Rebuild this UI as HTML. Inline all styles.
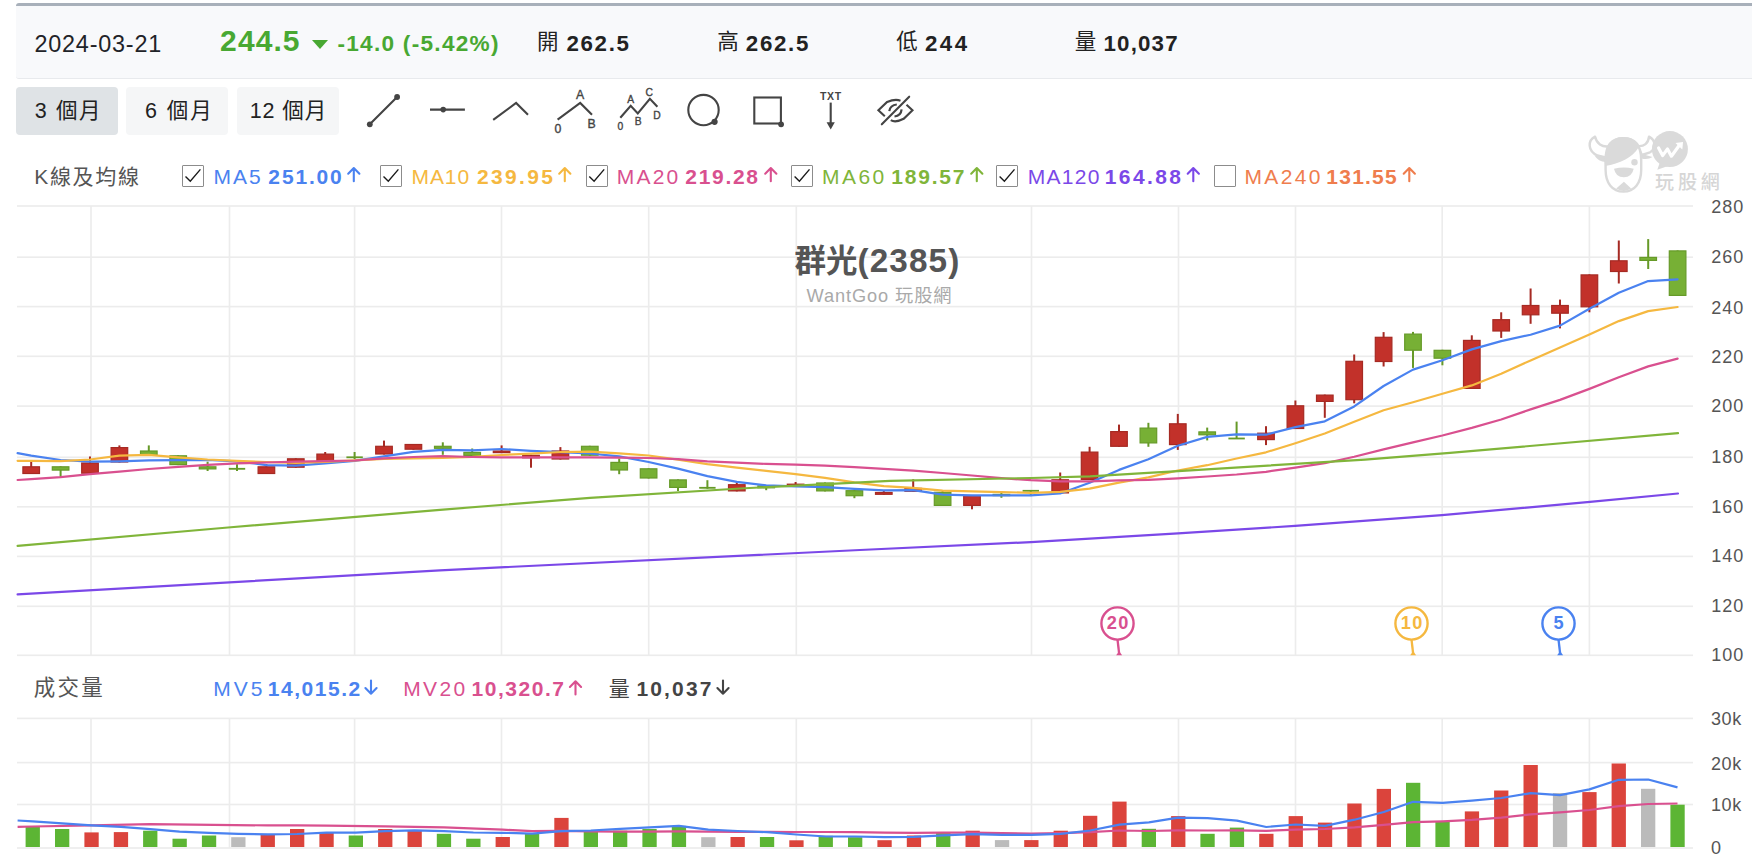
<!DOCTYPE html><html lang="zh-Hant"><head><meta charset="utf-8"><title>群光(2385)</title><style>
html,body{margin:0;padding:0;background:#fff}body{width:1752px;height:868px;position:relative;overflow:hidden;font-family:"Liberation Sans","Noto Sans CJK TC",sans-serif}
.t{position:absolute;white-space:nowrap;line-height:1}
.bar{position:absolute;left:16px;top:3px;width:1740px;height:72px;background:#f8f9fb;border-top:3px solid #a8b0ba;border-bottom:1px solid #e8eaed;border-radius:3px 0 0 3px}
.btn{position:absolute;top:87px;width:102px;height:47.5px;border-radius:4px;background:#f5f6f7}
.btn.on{background:#dfe3e6}
.cb{position:absolute;top:165px;width:19.6px;height:19.8px;border:1.1px solid #8c8c8c;background:#fff;border-radius:1px}
</style></head><body>
<div class="bar"></div>
<div class="btn on" style="left:16.3px"></div><div class="btn" style="left:126.3px"></div><div class="btn" style="left:236.8px"></div>
<svg width="1752" height="868" viewBox="0 0 1752 868" style="position:absolute;left:0;top:0">
<rect x="17.0" y="205.2" width="1676.0" height="1.6" fill="#ececec"/>
<rect x="17.0" y="256.4" width="1676.0" height="1.6" fill="#ececec"/>
<rect x="17.0" y="305.8" width="1676.0" height="1.6" fill="#ececec"/>
<rect x="17.0" y="355.5" width="1676.0" height="1.6" fill="#ececec"/>
<rect x="17.0" y="405.3" width="1676.0" height="1.6" fill="#ececec"/>
<rect x="17.0" y="456.5" width="1676.0" height="1.6" fill="#ececec"/>
<rect x="17.0" y="506.0" width="1676.0" height="1.6" fill="#ececec"/>
<rect x="17.0" y="555.6" width="1676.0" height="1.6" fill="#ececec"/>
<rect x="17.0" y="605.5" width="1676.0" height="1.6" fill="#ececec"/>
<rect x="17.0" y="654.5" width="1676.0" height="1.6" fill="#ececec"/>
<rect x="90.2" y="206" width="1.6" height="450" fill="#ececec"/>
<rect x="90.2" y="718" width="1.6" height="130" fill="#ececec"/>
<rect x="228.7" y="206" width="1.6" height="450" fill="#ececec"/>
<rect x="228.7" y="718" width="1.6" height="130" fill="#ececec"/>
<rect x="353.8" y="206" width="1.6" height="450" fill="#ececec"/>
<rect x="353.8" y="718" width="1.6" height="130" fill="#ececec"/>
<rect x="500.7" y="206" width="1.6" height="450" fill="#ececec"/>
<rect x="500.7" y="718" width="1.6" height="130" fill="#ececec"/>
<rect x="647.9" y="206" width="1.6" height="450" fill="#ececec"/>
<rect x="647.9" y="718" width="1.6" height="130" fill="#ececec"/>
<rect x="795.5" y="206" width="1.6" height="450" fill="#ececec"/>
<rect x="795.5" y="718" width="1.6" height="130" fill="#ececec"/>
<rect x="1030.7" y="206" width="1.6" height="450" fill="#ececec"/>
<rect x="1030.7" y="718" width="1.6" height="130" fill="#ececec"/>
<rect x="1177.7" y="206" width="1.6" height="450" fill="#ececec"/>
<rect x="1177.7" y="718" width="1.6" height="130" fill="#ececec"/>
<rect x="1294.7" y="206" width="1.6" height="450" fill="#ececec"/>
<rect x="1294.7" y="718" width="1.6" height="130" fill="#ececec"/>
<rect x="1441.4" y="206" width="1.6" height="450" fill="#ececec"/>
<rect x="1441.4" y="718" width="1.6" height="130" fill="#ececec"/>
<rect x="1588.6" y="206" width="1.6" height="450" fill="#ececec"/>
<rect x="1588.6" y="718" width="1.6" height="130" fill="#ececec"/>
<rect x="17.0" y="717.6" width="1676.0" height="1.6" fill="#ececec"/>
<rect x="17.0" y="761.8" width="1676.0" height="1.6" fill="#ececec"/>
<rect x="17.0" y="803.7" width="1676.0" height="1.6" fill="#ececec"/>
<rect x="17.0" y="847.2" width="1676.0" height="1.6" fill="#ececec"/>
<rect x="25.6" y="826.4" width="14.3" height="20.6" fill="#5cb534"/>
<rect x="55.0" y="829.0" width="14.3" height="18.0" fill="#5cb534"/>
<rect x="84.4" y="832.4" width="14.3" height="14.6" fill="#db443c"/>
<rect x="113.8" y="832.1" width="14.3" height="14.9" fill="#db443c"/>
<rect x="143.1" y="830.7" width="14.3" height="16.3" fill="#5cb534"/>
<rect x="172.5" y="838.7" width="14.3" height="8.3" fill="#5cb534"/>
<rect x="201.9" y="835.5" width="14.3" height="11.5" fill="#5cb534"/>
<rect x="231.2" y="837.2" width="14.3" height="9.8" fill="#bbbbbb"/>
<rect x="260.6" y="834.5" width="14.3" height="12.5" fill="#db443c"/>
<rect x="290.0" y="829.0" width="14.3" height="18.0" fill="#db443c"/>
<rect x="319.4" y="832.4" width="14.3" height="14.6" fill="#db443c"/>
<rect x="348.7" y="835.5" width="14.3" height="11.5" fill="#5cb534"/>
<rect x="378.1" y="829.0" width="14.3" height="18.0" fill="#db443c"/>
<rect x="407.5" y="830.4" width="14.3" height="16.6" fill="#db443c"/>
<rect x="436.8" y="833.8" width="14.3" height="13.2" fill="#5cb534"/>
<rect x="466.2" y="838.7" width="14.3" height="8.3" fill="#5cb534"/>
<rect x="495.6" y="837.0" width="14.3" height="10.0" fill="#db443c"/>
<rect x="524.9" y="833.3" width="14.3" height="13.7" fill="#5cb534"/>
<rect x="554.3" y="817.9" width="14.3" height="29.1" fill="#db443c"/>
<rect x="583.7" y="830.7" width="14.3" height="16.3" fill="#5cb534"/>
<rect x="613.0" y="830.7" width="14.3" height="16.3" fill="#5cb534"/>
<rect x="642.4" y="829.0" width="14.3" height="18.0" fill="#5cb534"/>
<rect x="671.8" y="825.9" width="14.3" height="21.1" fill="#5cb534"/>
<rect x="701.2" y="837.2" width="14.3" height="9.8" fill="#bbbbbb"/>
<rect x="730.5" y="837.0" width="14.3" height="10.0" fill="#db443c"/>
<rect x="759.9" y="837.0" width="14.3" height="10.0" fill="#5cb534"/>
<rect x="789.3" y="840.3" width="14.3" height="6.7" fill="#db443c"/>
<rect x="818.6" y="835.8" width="14.3" height="11.2" fill="#5cb534"/>
<rect x="848.0" y="837.2" width="14.3" height="9.8" fill="#5cb534"/>
<rect x="877.4" y="840.2" width="14.3" height="6.8" fill="#db443c"/>
<rect x="906.8" y="835.5" width="14.3" height="11.5" fill="#db443c"/>
<rect x="936.1" y="832.6" width="14.3" height="14.4" fill="#5cb534"/>
<rect x="965.5" y="830.7" width="14.3" height="16.3" fill="#db443c"/>
<rect x="994.9" y="840.1" width="14.3" height="6.9" fill="#bbbbbb"/>
<rect x="1024.2" y="840.1" width="14.3" height="6.9" fill="#db443c"/>
<rect x="1053.6" y="830.7" width="14.3" height="16.3" fill="#db443c"/>
<rect x="1083.0" y="815.8" width="14.3" height="31.2" fill="#db443c"/>
<rect x="1112.3" y="801.6" width="14.3" height="45.4" fill="#db443c"/>
<rect x="1141.7" y="828.8" width="14.3" height="18.2" fill="#5cb534"/>
<rect x="1171.1" y="816.1" width="14.3" height="30.9" fill="#db443c"/>
<rect x="1200.4" y="833.8" width="14.3" height="13.2" fill="#5cb534"/>
<rect x="1229.8" y="827.6" width="14.3" height="19.4" fill="#5cb534"/>
<rect x="1259.2" y="833.8" width="14.3" height="13.2" fill="#db443c"/>
<rect x="1288.6" y="816.1" width="14.3" height="30.9" fill="#db443c"/>
<rect x="1317.9" y="822.6" width="14.3" height="24.4" fill="#db443c"/>
<rect x="1347.3" y="803.5" width="14.3" height="43.5" fill="#db443c"/>
<rect x="1376.7" y="788.9" width="14.3" height="58.1" fill="#db443c"/>
<rect x="1406.0" y="782.8" width="14.3" height="64.2" fill="#5cb534"/>
<rect x="1435.4" y="821.2" width="14.3" height="25.8" fill="#5cb534"/>
<rect x="1464.8" y="811.4" width="14.3" height="35.6" fill="#db443c"/>
<rect x="1494.1" y="790.5" width="14.3" height="56.5" fill="#db443c"/>
<rect x="1523.5" y="765.0" width="14.3" height="82.0" fill="#db443c"/>
<rect x="1552.9" y="793.1" width="14.3" height="53.9" fill="#bbbbbb"/>
<rect x="1582.3" y="792.1" width="14.3" height="54.9" fill="#db443c"/>
<rect x="1611.6" y="763.5" width="14.3" height="83.5" fill="#db443c"/>
<rect x="1641.0" y="788.8" width="14.3" height="58.2" fill="#bbbbbb"/>
<rect x="1670.4" y="804.7" width="14.3" height="42.3" fill="#5cb534"/>
<polyline points="17.6,826.8 32.8,826.5 91.5,825.4 150.3,824.2 267.8,825.4 297.1,825.3 326.5,825.6 385.2,826.3 444.0,827.3 502.7,829.7 532.1,831.1 561.5,830.8 590.8,831.4 620.2,831.6 649.6,831.6 678.9,831.3 708.3,831.6 737.7,831.9 767.0,831.8 796.4,832.0 825.8,832.0 855.2,832.1 884.5,832.6 913.9,832.8 943.3,832.7 972.6,832.7 1002.0,833.2 1031.4,833.5 1060.8,833.1 1090.1,832.1 1119.5,830.5 1148.9,831.0 1178.2,830.3 1207.6,830.5 1237.0,830.4 1266.3,830.8 1295.7,829.7 1325.1,829.0 1354.5,827.3 1383.8,824.8 1413.2,822.1 1442.6,821.3 1471.9,819.9 1501.3,817.6 1530.7,814.3 1560.0,812.4 1589.4,810.0 1618.8,806.1 1648.2,804.0 1677.5,803.5" fill="none" stroke="#d9508f" stroke-width="2.2" stroke-linejoin="round"/>
<polyline points="17.6,820.5 32.8,821.3 62.2,823.4 91.5,825.4 120.9,826.8 150.3,829.1 179.6,831.6 209.0,832.9 238.4,833.8 267.8,834.3 297.1,834.0 326.5,832.7 355.9,832.7 385.2,831.1 414.6,830.3 444.0,831.2 473.4,832.5 502.7,832.8 532.1,833.6 561.5,831.1 590.8,830.5 620.2,828.9 649.6,827.3 678.9,825.8 708.3,829.7 737.7,831.0 767.0,832.2 796.4,834.5 825.8,836.5 855.2,836.5 884.5,837.1 913.9,836.8 943.3,835.3 972.6,834.2 1002.0,834.8 1031.4,834.8 1060.8,833.8 1090.1,830.5 1119.5,824.7 1148.9,822.4 1178.2,817.6 1207.6,818.2 1237.0,820.6 1266.3,827.0 1295.7,824.5 1325.1,825.8 1354.5,819.7 1383.8,812.0 1413.2,801.8 1442.6,802.8 1471.9,800.6 1501.3,798.0 1530.7,793.2 1560.0,795.2 1589.4,789.4 1618.8,779.8 1648.2,779.5 1677.5,787.4" fill="none" stroke="#4a82f0" stroke-width="2.2" stroke-linejoin="round"/>
<rect x="30.2" y="461.7" width="2" height="12.3" fill="#a62a23"/>
<rect x="22.9" y="466.8" width="16.6" height="6.7" fill="#c2312a" stroke="#a62a23" stroke-width="1.2"/>
<rect x="59.6" y="466.3" width="2" height="11.3" fill="#669a28"/>
<rect x="52.3" y="466.8" width="16.6" height="3.3" fill="#77b035" stroke="#669a28" stroke-width="1.2"/>
<rect x="89.0" y="456.5" width="2" height="17.2" fill="#a62a23"/>
<rect x="81.7" y="463.0" width="16.6" height="10.2" fill="#c2312a" stroke="#a62a23" stroke-width="1.2"/>
<rect x="118.4" y="445.4" width="2" height="17.1" fill="#a62a23"/>
<rect x="111.1" y="447.6" width="16.6" height="14.4" fill="#c2312a" stroke="#a62a23" stroke-width="1.2"/>
<rect x="147.8" y="445.4" width="2" height="10.3" fill="#669a28"/>
<rect x="140.5" y="451.0" width="16.6" height="4.2" fill="#77b035" stroke="#669a28" stroke-width="1.2"/>
<rect x="177.2" y="455.3" width="2" height="9.8" fill="#669a28"/>
<rect x="169.9" y="455.8" width="16.6" height="8.8" fill="#77b035" stroke="#669a28" stroke-width="1.2"/>
<rect x="206.6" y="461.7" width="2" height="9.3" fill="#669a28"/>
<rect x="199.3" y="466.8" width="16.6" height="2.1" fill="#77b035" stroke="#669a28" stroke-width="1.2"/>
<rect x="236.0" y="464.2" width="2" height="6.8" fill="#669a28"/>
<rect x="229.4" y="468.5" width="15.2" height="0.6" fill="#77b035" stroke="#669a28" stroke-width="1.2"/>
<rect x="265.4" y="464.0" width="2" height="10.0" fill="#a62a23"/>
<rect x="258.1" y="466.8" width="16.6" height="6.7" fill="#c2312a" stroke="#a62a23" stroke-width="1.2"/>
<rect x="294.8" y="458.3" width="2" height="9.4" fill="#a62a23"/>
<rect x="287.5" y="458.8" width="16.6" height="8.4" fill="#c2312a" stroke="#a62a23" stroke-width="1.2"/>
<rect x="324.2" y="452.0" width="2" height="12.0" fill="#a62a23"/>
<rect x="316.9" y="454.1" width="16.6" height="7.1" fill="#c2312a" stroke="#a62a23" stroke-width="1.2"/>
<rect x="353.6" y="452.0" width="2" height="7.0" fill="#669a28"/>
<rect x="347.0" y="457.0" width="15.2" height="0.6" fill="#77b035" stroke="#669a28" stroke-width="1.2"/>
<rect x="383.0" y="440.6" width="2" height="13.9" fill="#a62a23"/>
<rect x="375.7" y="446.3" width="16.6" height="7.7" fill="#c2312a" stroke="#a62a23" stroke-width="1.2"/>
<rect x="412.4" y="444.0" width="2" height="5.7" fill="#a62a23"/>
<rect x="405.1" y="444.5" width="16.6" height="4.7" fill="#c2312a" stroke="#a62a23" stroke-width="1.2"/>
<rect x="441.8" y="442.3" width="2" height="12.5" fill="#669a28"/>
<rect x="434.5" y="446.3" width="16.6" height="2.0" fill="#77b035" stroke="#669a28" stroke-width="1.2"/>
<rect x="471.2" y="448.5" width="2" height="7.5" fill="#669a28"/>
<rect x="463.9" y="452.4" width="16.6" height="3.1" fill="#77b035" stroke="#669a28" stroke-width="1.2"/>
<rect x="500.6" y="445.4" width="2" height="7.7" fill="#a62a23"/>
<rect x="493.3" y="451.0" width="16.6" height="1.6" fill="#c2312a" stroke="#a62a23" stroke-width="1.2"/>
<rect x="530.0" y="454.8" width="2" height="12.9" fill="#a62a23"/>
<rect x="522.7" y="455.3" width="16.6" height="2.5" fill="#c2312a" stroke="#a62a23" stroke-width="1.2"/>
<rect x="559.4" y="447.1" width="2" height="12.4" fill="#a62a23"/>
<rect x="552.1" y="451.0" width="16.6" height="8.0" fill="#c2312a" stroke="#a62a23" stroke-width="1.2"/>
<rect x="588.8" y="445.8" width="2" height="9.9" fill="#669a28"/>
<rect x="581.5" y="446.3" width="16.6" height="8.9" fill="#77b035" stroke="#669a28" stroke-width="1.2"/>
<rect x="618.2" y="458.5" width="2" height="15.7" fill="#669a28"/>
<rect x="610.9" y="462.4" width="16.6" height="7.6" fill="#77b035" stroke="#669a28" stroke-width="1.2"/>
<rect x="647.6" y="468.3" width="2" height="10.2" fill="#669a28"/>
<rect x="640.3" y="468.8" width="16.6" height="9.2" fill="#77b035" stroke="#669a28" stroke-width="1.2"/>
<rect x="677.0" y="479.4" width="2" height="11.6" fill="#669a28"/>
<rect x="669.7" y="479.9" width="16.6" height="7.5" fill="#77b035" stroke="#669a28" stroke-width="1.2"/>
<rect x="706.4" y="480.2" width="2" height="8.6" fill="#669a28"/>
<rect x="699.8" y="487.5" width="15.2" height="0.6" fill="#77b035" stroke="#669a28" stroke-width="1.2"/>
<rect x="735.8" y="481.6" width="2" height="9.8" fill="#a62a23"/>
<rect x="728.5" y="484.7" width="16.6" height="6.2" fill="#c2312a" stroke="#a62a23" stroke-width="1.2"/>
<rect x="765.2" y="485.4" width="2" height="4.8" fill="#669a28"/>
<rect x="757.9" y="485.9" width="16.6" height="1.9" fill="#77b035" stroke="#669a28" stroke-width="1.2"/>
<rect x="794.6" y="482.0" width="2" height="4.6" fill="#a62a23"/>
<rect x="787.3" y="484.2" width="16.6" height="1.9" fill="#c2312a" stroke="#a62a23" stroke-width="1.2"/>
<rect x="824.0" y="482.5" width="2" height="8.9" fill="#669a28"/>
<rect x="816.7" y="483.0" width="16.6" height="7.9" fill="#77b035" stroke="#669a28" stroke-width="1.2"/>
<rect x="853.4" y="490.2" width="2" height="8.0" fill="#669a28"/>
<rect x="846.1" y="490.7" width="16.6" height="5.0" fill="#77b035" stroke="#669a28" stroke-width="1.2"/>
<rect x="882.8" y="490.0" width="2" height="4.8" fill="#a62a23"/>
<rect x="875.5" y="492.5" width="16.6" height="1.8" fill="#c2312a" stroke="#a62a23" stroke-width="1.2"/>
<rect x="912.2" y="479.3" width="2" height="12.5" fill="#a62a23"/>
<rect x="904.9" y="488.4" width="16.6" height="2.9" fill="#c2312a" stroke="#a62a23" stroke-width="1.2"/>
<rect x="941.6" y="490.5" width="2" height="15.4" fill="#669a28"/>
<rect x="934.3" y="492.3" width="16.6" height="13.1" fill="#77b035" stroke="#669a28" stroke-width="1.2"/>
<rect x="971.0" y="495.1" width="2" height="14.2" fill="#a62a23"/>
<rect x="963.7" y="495.6" width="16.6" height="9.8" fill="#c2312a" stroke="#a62a23" stroke-width="1.2"/>
<rect x="1000.4" y="491.3" width="2" height="6.5" fill="#669a28"/>
<rect x="993.1" y="494.4" width="16.6" height="1.2" fill="#77b035" stroke="#669a28" stroke-width="1.2"/>
<rect x="1029.8" y="490.0" width="2" height="6.1" fill="#669a28"/>
<rect x="1023.2" y="490.5" width="15.2" height="0.6" fill="#77b035" stroke="#669a28" stroke-width="1.2"/>
<rect x="1059.2" y="472.5" width="2" height="20.9" fill="#a62a23"/>
<rect x="1051.9" y="479.8" width="16.6" height="13.1" fill="#c2312a" stroke="#a62a23" stroke-width="1.2"/>
<rect x="1088.6" y="446.8" width="2" height="33.1" fill="#a62a23"/>
<rect x="1081.3" y="452.1" width="16.6" height="27.3" fill="#c2312a" stroke="#a62a23" stroke-width="1.2"/>
<rect x="1118.0" y="424.6" width="2" height="22.2" fill="#a62a23"/>
<rect x="1110.7" y="431.6" width="16.6" height="14.7" fill="#c2312a" stroke="#a62a23" stroke-width="1.2"/>
<rect x="1147.4" y="422.8" width="2" height="24.0" fill="#669a28"/>
<rect x="1140.1" y="428.1" width="16.6" height="14.8" fill="#77b035" stroke="#669a28" stroke-width="1.2"/>
<rect x="1176.8" y="413.9" width="2" height="36.0" fill="#a62a23"/>
<rect x="1169.5" y="423.8" width="16.6" height="20.8" fill="#c2312a" stroke="#a62a23" stroke-width="1.2"/>
<rect x="1206.2" y="427.6" width="2" height="12.8" fill="#669a28"/>
<rect x="1198.9" y="431.9" width="16.6" height="2.9" fill="#77b035" stroke="#669a28" stroke-width="1.2"/>
<rect x="1235.6" y="421.6" width="2" height="17.1" fill="#669a28"/>
<rect x="1229.0" y="438.2" width="15.2" height="0.6" fill="#77b035" stroke="#669a28" stroke-width="1.2"/>
<rect x="1265.0" y="426.2" width="2" height="18.9" fill="#a62a23"/>
<rect x="1257.7" y="433.2" width="16.6" height="6.4" fill="#c2312a" stroke="#a62a23" stroke-width="1.2"/>
<rect x="1294.4" y="400.5" width="2" height="28.5" fill="#a62a23"/>
<rect x="1287.1" y="405.8" width="16.6" height="22.7" fill="#c2312a" stroke="#a62a23" stroke-width="1.2"/>
<rect x="1323.8" y="394.6" width="2" height="23.2" fill="#a62a23"/>
<rect x="1316.5" y="395.1" width="16.6" height="6.3" fill="#c2312a" stroke="#a62a23" stroke-width="1.2"/>
<rect x="1353.2" y="354.5" width="2" height="48.8" fill="#a62a23"/>
<rect x="1345.9" y="361.3" width="16.6" height="38.4" fill="#c2312a" stroke="#a62a23" stroke-width="1.2"/>
<rect x="1382.6" y="332.1" width="2" height="34.4" fill="#a62a23"/>
<rect x="1375.3" y="337.3" width="16.6" height="24.2" fill="#c2312a" stroke="#a62a23" stroke-width="1.2"/>
<rect x="1412.0" y="331.9" width="2" height="36.0" fill="#669a28"/>
<rect x="1404.7" y="334.1" width="16.6" height="16.1" fill="#77b035" stroke="#669a28" stroke-width="1.2"/>
<rect x="1441.4" y="349.8" width="2" height="15.5" fill="#669a28"/>
<rect x="1434.1" y="350.3" width="16.6" height="7.9" fill="#77b035" stroke="#669a28" stroke-width="1.2"/>
<rect x="1470.8" y="335.3" width="2" height="53.6" fill="#a62a23"/>
<rect x="1463.5" y="340.4" width="16.6" height="48.0" fill="#c2312a" stroke="#a62a23" stroke-width="1.2"/>
<rect x="1500.2" y="312.3" width="2" height="25.6" fill="#a62a23"/>
<rect x="1492.9" y="319.7" width="16.6" height="11.3" fill="#c2312a" stroke="#a62a23" stroke-width="1.2"/>
<rect x="1529.6" y="288.5" width="2" height="35.3" fill="#a62a23"/>
<rect x="1522.3" y="305.5" width="16.6" height="9.3" fill="#c2312a" stroke="#a62a23" stroke-width="1.2"/>
<rect x="1559.0" y="299.6" width="2" height="28.8" fill="#a62a23"/>
<rect x="1551.7" y="305.5" width="16.6" height="7.7" fill="#c2312a" stroke="#a62a23" stroke-width="1.2"/>
<rect x="1588.4" y="274.4" width="2" height="37.9" fill="#a62a23"/>
<rect x="1581.1" y="274.9" width="16.6" height="31.9" fill="#c2312a" stroke="#a62a23" stroke-width="1.2"/>
<rect x="1617.8" y="240.5" width="2" height="43.0" fill="#a62a23"/>
<rect x="1610.5" y="260.8" width="16.6" height="10.7" fill="#c2312a" stroke="#a62a23" stroke-width="1.2"/>
<rect x="1647.2" y="239.1" width="2" height="29.9" fill="#669a28"/>
<rect x="1639.9" y="257.4" width="16.6" height="3.0" fill="#77b035" stroke="#669a28" stroke-width="1.2"/>
<rect x="1676.6" y="250.4" width="2" height="45.5" fill="#669a28"/>
<rect x="1669.3" y="250.9" width="16.6" height="44.5" fill="#77b035" stroke="#669a28" stroke-width="1.2"/>
<polyline points="17.6,453.1 31.2,455.7 60.6,460.0 90.0,461.7 119.4,461.3 148.8,460.4 178.2,460.2 207.6,460.0 237.0,461.3 266.4,465.1 295.8,465.6 325.2,463.3 354.6,460.9 384.0,456.3 413.4,451.8 442.8,449.9 472.2,450.4 501.6,449.0 531.0,450.8 560.4,452.1 589.8,453.5 619.2,456.4 648.6,462.0 678.0,468.6 707.4,476.1 736.8,481.8 766.2,485.4 795.6,486.4 825.0,487.1 854.4,488.8 883.8,490.3 913.2,490.2 942.6,494.7 972.0,495.4 1001.4,495.4 1030.8,495.3 1060.2,493.5 1089.6,482.7 1119.0,469.9 1148.4,459.3 1177.8,445.7 1207.2,436.9 1236.6,434.4 1266.0,434.7 1295.4,427.1 1324.8,421.3 1354.2,406.4 1383.6,386.0 1413.0,369.6 1442.4,360.3 1471.8,349.4 1501.2,341.1 1530.6,334.7 1560.0,325.6 1589.4,308.7 1618.8,292.8 1648.2,281.1 1677.6,279.3" fill="none" stroke="#4a82f0" stroke-width="2.2" stroke-linejoin="round" stroke-linecap="round"/>
<polyline points="17.6,460.8 31.2,460.8 60.6,461.2 90.0,459.5 119.4,455.7 148.8,454.8 178.2,457.4 207.6,459.5 237.0,460.8 266.4,462.0 295.8,463.0 325.2,461.8 354.6,460.4 384.0,458.8 413.4,458.5 442.8,457.8 472.2,456.9 501.6,455.0 531.0,453.6 560.4,452.0 589.8,451.7 619.2,453.4 648.6,455.5 678.0,459.7 707.4,464.1 736.8,467.7 766.2,470.9 795.6,474.2 825.0,477.9 854.4,482.4 883.8,486.1 913.2,487.8 942.6,490.6 972.0,491.3 1001.4,492.1 1030.8,492.8 1060.2,491.9 1089.6,488.7 1119.0,482.6 1148.4,477.4 1177.8,470.5 1207.2,465.2 1236.6,458.5 1266.0,452.3 1295.4,443.2 1324.8,433.5 1354.2,421.7 1383.6,410.2 1413.0,402.2 1442.4,393.7 1471.8,385.4 1501.2,373.7 1530.6,360.4 1560.0,347.6 1589.4,334.5 1618.8,321.1 1648.2,311.1 1677.6,307.0" fill="none" stroke="#f5b840" stroke-width="2.2" stroke-linejoin="round" stroke-linecap="round"/>
<polyline points="17.6,480.0 31.2,479.1 60.6,477.1 90.0,474.2 119.4,471.6 148.8,469.0 178.2,466.8 207.6,464.8 237.0,463.4 266.4,462.5 295.8,461.7 325.2,461.2 354.6,460.5 384.0,458.3 413.4,457.0 442.8,456.2 472.2,457.0 501.6,457.4 531.0,457.4 560.4,457.4 589.8,457.4 619.2,457.6 648.6,458.0 678.0,459.2 707.4,461.3 736.8,462.7 766.2,463.9 795.6,464.6 825.0,465.7 854.4,467.2 883.8,468.9 913.2,470.6 942.6,473.0 972.0,475.5 1001.4,478.1 1030.8,480.2 1060.2,481.4 1089.6,481.4 1119.0,480.3 1148.4,479.9 1177.8,478.3 1207.2,476.5 1236.6,474.5 1266.0,471.8 1295.4,467.6 1324.8,463.2 1354.2,456.8 1383.6,449.4 1413.0,442.4 1442.4,435.5 1471.8,427.9 1501.2,419.5 1530.6,409.4 1560.0,399.9 1589.4,388.9 1618.8,377.3 1648.2,366.4 1677.6,358.6" fill="none" stroke="#d9508f" stroke-width="2.2" stroke-linejoin="round" stroke-linecap="round"/>
<polyline points="17.6,545.8 228.0,527.5 440.0,509.8 590.0,497.9 740.0,488.5 890.0,480.8 1031.0,478.0 1090.0,476.4 1148.0,472.8 1170.0,471.6 1365.0,459.6 1450.0,452.9 1678.0,433.2" fill="none" stroke="#80b53a" stroke-width="2.2" stroke-linejoin="round" stroke-linecap="round"/>
<polyline points="17.6,594.4 440.0,570.3 860.0,550.0 1031.0,542.1 1178.0,533.3 1295.0,525.9 1442.0,515.1 1590.0,501.9 1678.0,493.5" fill="none" stroke="#7b48e8" stroke-width="2.2" stroke-linejoin="round" stroke-linecap="round"/>
<path d="M1116.1 655.3 L1119.1 651.3 L1122.1 655.3Z" fill="#d9508f"/>
<line x1="1117.5" y1="639.5" x2="1119.2" y2="654" stroke="#d9508f" stroke-width="2.3"/>
<circle cx="1117.5" cy="623.5" r="16.1" fill="#fff" stroke="#d9508f" stroke-width="2.4"/>
<text x="1118.2" y="629.3" text-anchor="middle" font-family="Liberation Sans, sans-serif" font-weight="bold" font-size="18.2" letter-spacing="1.3" fill="#d9508f">20</text>
<path d="M1410.1 655.3 L1413.1 651.3 L1416.1 655.3Z" fill="#f5b840"/>
<line x1="1411.5" y1="639.5" x2="1413.2" y2="654" stroke="#f5b840" stroke-width="2.3"/>
<circle cx="1411.5" cy="623.5" r="16.1" fill="#fff" stroke="#f5b840" stroke-width="2.4"/>
<text x="1412.2" y="629.3" text-anchor="middle" font-family="Liberation Sans, sans-serif" font-weight="bold" font-size="18.2" letter-spacing="1.3" fill="#f5b840">10</text>
<path d="M1557.1 655.3 L1560.1 651.3 L1563.1 655.3Z" fill="#4a82f0"/>
<line x1="1558.5" y1="639.5" x2="1560.2" y2="654" stroke="#4a82f0" stroke-width="2.3"/>
<circle cx="1558.5" cy="623.5" r="16.1" fill="#fff" stroke="#4a82f0" stroke-width="2.4"/>
<text x="1559.2" y="629.3" text-anchor="middle" font-family="Liberation Sans, sans-serif" font-weight="bold" font-size="18.2" letter-spacing="1.3" fill="#4a82f0">5</text>

<g fill="none" stroke="#444" stroke-width="2.1" stroke-linecap="round" stroke-linejoin="miter">
<line x1="369.8" y1="124.3" x2="397.1" y2="97"/>
<line x1="430" y1="109.6" x2="464.9" y2="109.6" stroke-linecap="butt"/>
<polyline points="493.2,119.9 516.1,103 528,114.8" stroke-linecap="butt"/>
<polyline points="557.6,119.6 580.2,103 592,114.8" stroke-linecap="butt"/>
<polyline points="620.3,117.7 630.7,105.8 637.8,113.5 649.9,98.8 657.4,106.7" stroke-linecap="butt"/>
<circle cx="703.5" cy="110.1" r="15.2"/>
<rect x="754.3" y="97.5" width="26.6" height="26"/>
<line x1="830.7" y1="102.6" x2="830.7" y2="124" stroke-linecap="butt"/>
<path d="M909.2 96.7 L881.8 124.3"/>
<path d="M900.5 100.7 Q895.2 98.5 887.1 102 L878.4 110.3 L884.8 116.3" stroke-linecap="butt"/>
<path d="M906.5 104.7 L912.5 110.3 L903.7 118.8 Q895.4 123.1 890.8 120.2" stroke-linecap="butt"/>
<path d="M896.8 104.5 Q890.3 105 889.3 111.1" stroke-width="2.2" stroke-linecap="butt"/>
<path d="M901.6 109.3 Q901 115.7 894.5 116.5" stroke-width="2.2" stroke-linecap="butt"/>
</g>
<g fill="#444">
<circle cx="369.8" cy="124.3" r="2.9"/><circle cx="397.1" cy="97" r="2.9"/>
<circle cx="443.2" cy="109.6" r="2.8"/>
<circle cx="714.6" cy="121.8" r="3.1"/>
<circle cx="781.1" cy="124.3" r="2.9"/>
<path d="M826.6 122.2 L834.8 122.2 L830.7 129.5Z"/>
</g>
<g fill="#444" font-family="Liberation Sans, sans-serif" text-anchor="middle">
<g stroke="#444" stroke-width="0.35">
<text x="580.2" y="99.1" font-size="12.3">A</text>
<text x="557.8" y="133" font-size="12.3">0</text>
<text x="591.7" y="127.7" font-size="12.3">B</text>
<text x="620.3" y="129.5" font-size="10.3">0</text>
<text x="630.7" y="102.5" font-size="10.3">A</text>
<text x="638.2" y="124.8" font-size="10.3">B</text>
<text x="649.1" y="95.9" font-size="10.3">C</text>
<text x="657" y="118.5" font-size="10.3">D</text>
</g>
<text x="830.9" y="99.9" font-size="10.5" font-weight="bold" letter-spacing="0.6">TXT</text>
</g>

<g>
<path d="M1595 136.6 C1587.5 140.5 1587.5 151 1597.5 155.5 L1607 158 L1609 146.3 C1602 147.5 1596.5 143.5 1595 136.6Z" fill="#fff" stroke="#dadada" stroke-width="2.4" stroke-linejoin="round"/>
<path d="M1649 136.6 C1656.5 140.5 1656 149 1650 152.3 L1642 155 L1637.5 146 C1644 147 1648.5 143 1649 136.6Z" fill="#fff" stroke="#dadada" stroke-width="2.4" stroke-linejoin="round"/>
<path d="M1594.5 155.5 Q1598 161.5 1606 162 L1606 156Z" fill="#dadada"/>
<path d="M1641.5 158.5 Q1648 160 1652.5 157 L1642 154Z" fill="#dadada"/>
<path d="M1623.4 138.2 C1637 138.2 1641.2 148 1641.2 160 L1641.2 170 C1641.2 183 1634.5 191.6 1623.4 191.6 C1612.3 191.6 1605.6 183 1605.6 170 L1605.6 160 C1605.6 148 1609.8 138.2 1623.4 138.2Z" fill="#fff" stroke="#dadada" stroke-width="2.4"/>
<path d="M1623.4 137 C1632 137 1636.5 141 1638.6 147.5 C1632 158 1620 163.5 1605 166 C1603.5 150 1609 137 1623.4 137Z" fill="#dadada"/>
<circle cx="1634.5" cy="162.2" r="3.2" fill="#dadada"/>
<path d="M1614 168.8 Q1623.8 166.2 1633.7 168.8 Q1632 177.3 1623.8 177.3 Q1615.6 177.3 1614 168.8Z" fill="#dadada"/>
<path d="M1616.2 188.6 L1623.9 181.8 L1631.2 188.6 Q1623.6 193.5 1616.2 188.6Z" fill="#dadada"/>
<circle cx="1669.9" cy="149.1" r="18" fill="#dadada"/>
<path d="M1660 162 L1657.3 169.8 L1668 166Z" fill="#dadada"/>
<polyline points="1658.6,148 1662.6,155.6 1667.5,149 1671.4,156.2 1679.5,145" fill="none" stroke="#fff" stroke-width="3.2" stroke-linejoin="round" stroke-linecap="round"/>
<path d="M1675.5 143 L1683 142 L1682.3 149.5Z" fill="#fff"/>
<text x="1655" y="188.9" font-family="Liberation Sans, Noto Sans CJK TC, sans-serif" font-size="19" font-weight="500" letter-spacing="3.9" fill="#d6d6d6">玩股網</text>
</g>

</svg>
<span id="date" class="t" style="left:34.46px;top:32.8px;font-size:23.4px;color:#1f2328;font-weight:400;letter-spacing:0.79px;">2024-03-21</span>
<span id="price" class="t" style="left:220.12px;top:26.4px;font-size:30px;color:#48a832;font-weight:700;letter-spacing:1.09px;">244.5</span>
<div style="position:absolute;left:311.5px;top:39.6px;width:0;height:0;border-left:8.5px solid transparent;border-right:8.5px solid transparent;border-top:9.5px solid #48a832"></div>
<span id="chg" class="t" style="left:337.39px;top:32.9px;font-size:22.6px;color:#48a832;font-weight:700;letter-spacing:1.286px;">-14.0 (-5.42%)</span>
<span id="o1" class="t" style="left:537.06px;top:31.5px;font-size:21.5px;color:#222;font-weight:400;letter-spacing:0px;">開</span>
<span id="o2" class="t" style="left:566.5px;top:33.2px;font-size:22.3px;color:#222;font-weight:700;letter-spacing:1.661px;">262.5</span>
<span id="h1" class="t" style="left:717.3px;top:31.5px;font-size:21.5px;color:#222;font-weight:400;letter-spacing:0px;">高</span>
<span id="h2" class="t" style="left:745.83px;top:33.2px;font-size:22.3px;color:#222;font-weight:700;letter-spacing:1.678px;">262.5</span>
<span id="l1" class="t" style="left:896.3px;top:31.5px;font-size:21.5px;color:#222;font-weight:400;letter-spacing:0px;">低</span>
<span id="l2" class="t" style="left:925.0px;top:33.2px;font-size:22.3px;color:#222;font-weight:700;letter-spacing:2.433px;">244</span>
<span id="v1" class="t" style="left:1074.72px;top:31.5px;font-size:21.5px;color:#222;font-weight:400;letter-spacing:0px;">量</span>
<span id="v2" class="t" style="left:1103.5px;top:33.2px;font-size:22.3px;color:#222;font-weight:700;letter-spacing:1.171px;">10,037</span>
<span id="b1" class="t" style="left:34.8px;top:100.5px;font-size:21.5px;color:#222;font-weight:400;letter-spacing:1.577px;">3 個月</span>
<span id="b2" class="t" style="left:144.89px;top:100.5px;font-size:21.5px;color:#222;font-weight:400;letter-spacing:1.946px;">6 個月</span>
<span id="b3" class="t" style="left:249.69px;top:100.5px;font-size:21.5px;color:#222;font-weight:400;letter-spacing:0.911px;">12 個月</span>
<span id="kl" class="t" style="left:34.28px;top:165.5px;font-size:21px;color:#555;font-weight:400;letter-spacing:1.667px;">K線及均線</span>
<div class="cb" style="left:182.2px"></div>
<div class="cb" style="left:380.2px"></div>
<div class="cb" style="left:586px"></div>
<div class="cb" style="left:791.3px"></div>
<div class="cb" style="left:996.3px"></div>
<div class="cb" style="left:1214px"></div>
<span id="ln0" class="t" style="left:213.5px;top:166px;font-size:21px;color:#4a82f0;font-weight:400;letter-spacing:2.01px;">MA5</span>
<span id="lv0" class="t" style="left:268.37px;top:166px;font-size:21px;color:#4a82f0;font-weight:700;letter-spacing:1.841px;">251.00</span>
<span id="ln1" class="t" style="left:411.5px;top:166px;font-size:21px;color:#f5b840;font-weight:400;letter-spacing:0.908px;">MA10</span>
<span id="lv1" class="t" style="left:476.98px;top:166px;font-size:21px;color:#f5b840;font-weight:700;letter-spacing:2.349px;">239.95</span>
<span id="ln2" class="t" style="left:616.87px;top:166px;font-size:21px;color:#d9508f;font-weight:400;letter-spacing:2.161px;">MA20</span>
<span id="lv2" class="t" style="left:685.37px;top:166px;font-size:21px;color:#d9508f;font-weight:700;letter-spacing:1.681px;">219.28</span>
<span id="ln3" class="t" style="left:821.94px;top:166px;font-size:21px;color:#80b53a;font-weight:400;letter-spacing:2.496px;">MA60</span>
<span id="lv3" class="t" style="left:891.33px;top:166px;font-size:21px;color:#80b53a;font-weight:700;letter-spacing:1.76px;">189.57</span>
<span id="ln4" class="t" style="left:1027.87px;top:166px;font-size:21px;color:#7b48e8;font-weight:400;letter-spacing:1.23px;">MA120</span>
<span id="lv4" class="t" style="left:1104.79px;top:166px;font-size:21px;color:#7b48e8;font-weight:700;letter-spacing:2.382px;">164.88</span>
<span id="ln5" class="t" style="left:1244.5px;top:166px;font-size:21px;color:#ef7d4d;font-weight:400;letter-spacing:2.332px;">MA240</span>
<span id="lv5" class="t" style="left:1326.32px;top:166px;font-size:21px;color:#ef7d4d;font-weight:700;letter-spacing:1.232px;">131.55</span>
<span id="vl" class="t" style="left:33.69px;top:677.5px;font-size:21.5px;color:#555;font-weight:400;letter-spacing:2.24px;">成交量</span>
<span id="mv5n" class="t" style="left:213.18px;top:678px;font-size:21px;color:#4a82f0;font-weight:400;letter-spacing:3.091px;">MV5</span>
<span id="mv5v" class="t" style="left:267.83px;top:678px;font-size:21px;color:#4a82f0;font-weight:700;letter-spacing:1.52px;">14,015.2</span>
<span id="mv20n" class="t" style="left:403.27px;top:678px;font-size:21px;color:#d9508f;font-weight:400;letter-spacing:2.324px;">MV20</span>
<span id="mv20v" class="t" style="left:471.5px;top:678px;font-size:21px;color:#d9508f;font-weight:700;letter-spacing:1.528px;">10,320.7</span>
<span id="qn" class="t" style="left:608.74px;top:677.5px;font-size:21px;color:#444;font-weight:400;letter-spacing:0px;">量</span>
<span id="qv" class="t" style="left:636.4px;top:678px;font-size:21px;color:#444;font-weight:700;letter-spacing:2.166px;">10,037</span>
<span id="ttl" class="t" style="left:794.5px;top:243.5px;font-size:31.5px;color:#555;font-weight:700;letter-spacing:0px;">群光<span style="letter-spacing:1.1px;font-size:33.3px">(2385)</span></span>
<span id="sub" class="t" style="left:806.58px;top:287.1px;font-size:18.2px;color:#a9a9a9;font-weight:400;letter-spacing:0.908px;">WantGoo 玩股網</span>
<span id="y0" class="t" style="left:1711.2px;top:198.4px;font-size:18px;color:#555;font-weight:400;letter-spacing:1.0px;">280</span>
<span id="y1" class="t" style="left:1711.2px;top:248.3px;font-size:18px;color:#555;font-weight:400;letter-spacing:1.0px;">260</span>
<span id="y2" class="t" style="left:1711.2px;top:298.6px;font-size:18px;color:#555;font-weight:400;letter-spacing:1.0px;">240</span>
<span id="y3" class="t" style="left:1711.2px;top:347.6px;font-size:18px;color:#555;font-weight:400;letter-spacing:1.0px;">220</span>
<span id="y4" class="t" style="left:1711.2px;top:397.0px;font-size:18px;color:#555;font-weight:400;letter-spacing:1.0px;">200</span>
<span id="y5" class="t" style="left:1711.2px;top:447.9px;font-size:18px;color:#555;font-weight:400;letter-spacing:1.0px;">180</span>
<span id="y6" class="t" style="left:1711.2px;top:497.8px;font-size:18px;color:#555;font-weight:400;letter-spacing:1.0px;">160</span>
<span id="y7" class="t" style="left:1711.2px;top:547.0px;font-size:18px;color:#555;font-weight:400;letter-spacing:1.0px;">140</span>
<span id="y8" class="t" style="left:1711.2px;top:597.4px;font-size:18px;color:#555;font-weight:400;letter-spacing:1.0px;">120</span>
<span id="y9" class="t" style="left:1711.2px;top:646.0px;font-size:18px;color:#555;font-weight:400;letter-spacing:1.0px;">100</span>
<span id="vy30k" class="t" style="left:1711px;top:710.3px;font-size:18px;color:#555;font-weight:400;letter-spacing:0.6px;">30k</span>
<span id="vy20k" class="t" style="left:1711px;top:754.5px;font-size:18px;color:#555;font-weight:400;letter-spacing:0.6px;">20k</span>
<span id="vy10k" class="t" style="left:1711px;top:796.0px;font-size:18px;color:#555;font-weight:400;letter-spacing:0.6px;">10k</span>
<span id="vy0" class="t" style="left:1711px;top:838.6px;font-size:18px;color:#555;font-weight:400;letter-spacing:0.6px;">0</span>
<svg width="1752" height="868" viewBox="0 0 1752 868" style="position:absolute;left:0;top:0;pointer-events:none">
<path d="M353.8 181.2 L353.8 168.10000000000002 M348.2 173.70000000000002 L353.8 168.10000000000002 L359.40000000000003 173.70000000000002" fill="none" stroke="#4a82f0" stroke-width="2.1" stroke-linecap="round" stroke-linejoin="round"/>
<path d="M564.8 181.2 L564.8 168.10000000000002 M559.1999999999999 173.70000000000002 L564.8 168.10000000000002 L570.4 173.70000000000002" fill="none" stroke="#f5b840" stroke-width="2.1" stroke-linecap="round" stroke-linejoin="round"/>
<path d="M770.8 181.2 L770.8 168.10000000000002 M765.1999999999999 173.70000000000002 L770.8 168.10000000000002 L776.4 173.70000000000002" fill="none" stroke="#d9508f" stroke-width="2.1" stroke-linecap="round" stroke-linejoin="round"/>
<path d="M976.8 181.2 L976.8 168.10000000000002 M971.1999999999999 173.70000000000002 L976.8 168.10000000000002 L982.4 173.70000000000002" fill="none" stroke="#80b53a" stroke-width="2.1" stroke-linecap="round" stroke-linejoin="round"/>
<path d="M1193.3 181.2 L1193.3 168.10000000000002 M1187.7 173.70000000000002 L1193.3 168.10000000000002 L1198.8999999999999 173.70000000000002" fill="none" stroke="#7b48e8" stroke-width="2.1" stroke-linecap="round" stroke-linejoin="round"/>
<path d="M1409.3 181.2 L1409.3 168.10000000000002 M1403.7 173.70000000000002 L1409.3 168.10000000000002 L1414.8999999999999 173.70000000000002" fill="none" stroke="#ef7d4d" stroke-width="2.1" stroke-linecap="round" stroke-linejoin="round"/>
<path d="M371 680.5 L371 693.7 M365.4 688.1 L371 693.7 L376.6 688.1" fill="none" stroke="#4a82f0" stroke-width="2.1" stroke-linecap="round" stroke-linejoin="round"/>
<path d="M575.5 694.5 L575.5 681.3 M569.9 686.9 L575.5 681.3 L581.1 686.9" fill="none" stroke="#d9508f" stroke-width="2.1" stroke-linecap="round" stroke-linejoin="round"/>
<path d="M723 680.5 L723 693.7 M717.4 688.1 L723 693.7 L728.6 688.1" fill="none" stroke="#444" stroke-width="2.1" stroke-linecap="round" stroke-linejoin="round"/>
<polyline points="185.5,176.4 190.29999999999998,181.2 200.39999999999998,169.4" fill="none" stroke="#1a1a1a" stroke-width="1.4"/>
<polyline points="383.5,176.4 388.3,181.2 398.4,169.4" fill="none" stroke="#1a1a1a" stroke-width="1.4"/>
<polyline points="589.3,176.4 594.1,181.2 604.2,169.4" fill="none" stroke="#1a1a1a" stroke-width="1.4"/>
<polyline points="794.5999999999999,176.4 799.4,181.2 809.5,169.4" fill="none" stroke="#1a1a1a" stroke-width="1.4"/>
<polyline points="999.5999999999999,176.4 1004.4,181.2 1014.5,169.4" fill="none" stroke="#1a1a1a" stroke-width="1.4"/>
</svg>
</body></html>
